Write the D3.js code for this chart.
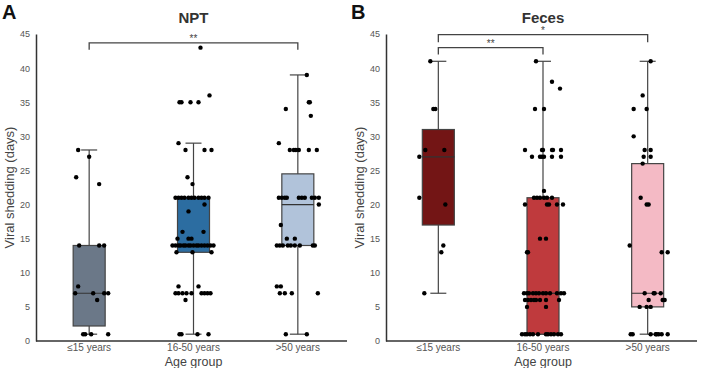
<!DOCTYPE html>
<html>
<head>
<meta charset="utf-8">
<script src="https://cdn.jsdelivr.net/npm/d3@7"></script>
<style>
  body { margin: 0; background: #fff; }
  svg text { font-family: "Liberation Sans", Arial, sans-serif; }
  .tick text { fill: #555; }
</style>
</head>
<body>
<svg id="chart" width="702" height="368"></svg>
<script>
const groups = ["≤15 years", "16-50 years", ">50 years"]

// box stats [min, q1, median, q3, max]
const nptBoxes = [[1, 2.2, 7, 14, 28], [1, 13, 14, 21, 29], [1, 14, 20, 24.5, 39]]
const fecesBoxes = [[7, 17, 27, 31, 41], [1, 1, 7, 21, 41], [1, 5, 7, 26, 41]]

const nptColors = ["#6b7888", "#2c6da1", "#b1c3da"]
const fecesColors = ["#731515", "#bf3a3d", "#f4bac5"]

// points: [jitter, days]
const npt0 = [[-11,28],[0,27],[-13,24],[10,23],[-10,14],[10,14],[15,14],[-11,8],[-14,7],[4,7],[15,7],[19,7],[8,6],[-6,1],[-4,1],[2,1],[19,1]]
const npt1 = [[7,43],[-14,35],[-12,35],[-3,35],[5,35],[16,36],[-15,29],[-8,28],[11,28],[18,28],[-6,24],[-1,23],
  [-18,21],[-15,21],[-12,21],[-9,21],[-5,21],[-2,21],[1,21],[5,21],[8,21],[11,21],[15,21],[11,20],[-5,19],[-11,16],[10,16],
  [-16,15],[-5,15],[-2,15],[-21,14],[-18,14],[-15,14],[-13,14],[-10,14],[-8,14],[-5,14],[-3,14],[0,14],[3,14],[5,14],[8,14],
  [11,14],[14,14],[17,14],[20,14],[-17,13],[-1,13],[18,13],[-15,8],[5,8],[-18,7],[-15,7],[-11,7],[-7,7],[-2,7],[8,7],[11,7],
  [14,7],[17,7],[-8,6],[-14,1],[-12,1],[4,1],[15,1]]
const npt2 = [[9,39],[-12,34],[11,35],[12,35],[13,33],[-19,29],[-8,28],[-4,28],[-2,28],[1,28],[11,28],[19,28],
  [-19,21],[-16,21],[-13,21],[-11,21],[1,21],[4,21],[7,21],[14,21],[17,21],[21,21],[21,20],[-17,17],[-11,15],[-3,15],
  [-21,14],[-18,14],[-15,14],[-10,14],[-7,14],[-3,14],[2,14],[15,14],[17,14],[-21,8],[-17,8],[-18,7],[-13,7],[-6,7],[20,7],
  [-12,1],[9,1]]
const feces0 = [[-8,41],[-5,34],[-3,34],[-13,28],[6,28],[-19,27],[-19,21],[7,20],[5,14],[3,13],[-14,7]]
const feces1 = [[-7,41],[9,38],[17,37],[-8,34],[1,34],[-18,28],[-1,28],[0,28],[9,28],[10,28],[18,28],
  [-11,27],[-3,27],[-1,27],[1,27],[9,27],[18,27],[1,22],[-9,21],[-6,21],[-3,21],[1,21],[4,21],[9,21],
  [-18,20],[4,20],[6,20],[14,20],[20,20],[-3,15],[3,15],[-16,13],[-15,13],
  [-19,7],[-16,7],[-14,7],[-10,7],[-7,7],[-4,7],[0,7],[3,7],[7,7],[14,7],[18,7],[21,7],
  [-18,6],[-15,6],[-12,6],[-9,6],[-7,6],[-3,6],[3,6],[16,6],[-16,5],[3,5],
  [-21,1],[-18,1],[-16,1],[-13,1],[-10,1],[-5,1],[3,1],[5,1],[8,1],[11,1],[15,1],[18,1]]
const feces2 = [[3,41],[-5,36],[-14,34],[-1,34],[-14,30],[-3,28],[3,28],[-4,27],[3,27],[-5,26],[-7,21],[-1,20],[1,20],
  [-18,14],[14,13],[20,13],[-3,7],[6,7],[7,7],[13,7],[1,6],[15,6],[17,6],[-8,5],[-1,5],[3,5],
  [-17,1],[-15,1],[3,1],[8,1],[9,1],[11,1],[14,1],[20,1]]

const panels = [
  { letter: "A", title: "NPT", x0: 37, x1: 350, axisX: 36, boxes: nptBoxes, colors: nptColors,
    points: [npt0, npt1, npt2],
    sig: [{ a: 0, b: 2, y: 43.7, drop: 1, label: "**" }] },
  { letter: "B", title: "Feces", x0: 386, x1: 700, axisX: 386, boxes: fecesBoxes, colors: fecesColors,
    points: [feces0, feces1, feces2],
    sig: [{ a: 0, b: 2, y: 44.9, drop: 1.1, label: "*" }, { a: 0, b: 1, y: 43, drop: 1, label: "**" }] }
]

const svg = d3.select("#chart")
const y = d3.scaleLinear().domain([0, 45]).range([341, 34])
const boxW = 32
const jitter = d3.scaleLinear().domain([-16, 16]).range([-16, 16])

panels.forEach(p => {
  const x = d3.scaleBand().domain(groups).range([p.x0, p.x1])
  const cx = g => x(g) + x.bandwidth() / 2
  const g = svg.append("g")

  g.append("text")
    .attr("x", p.x0 - 35)
    .attr("y", 19)
    .attr("font-size", 20)
    .attr("font-weight", "bold")
    .attr("fill", "#111")
    .text(p.letter)

  g.append("text")
    .attr("x", cx(groups[1]))
    .attr("y", 22.5)
    .attr("text-anchor", "middle")
    .attr("font-size", 15)
    .attr("font-weight", "bold")
    .attr("fill", "#333")
    .text(p.title)

  // axes
  const yAxis = d3.axisLeft(y).tickValues(d3.range(0, 46, 5)).tickSize(0).tickPadding(6)
  const yG = g.append("g").attr("transform", `translate(${p.axisX},0)`).call(yAxis)
  yG.select(".domain").attr("stroke", "#333").attr("stroke-width", 1.5)
  yG.selectAll(".tick text").attr("font-size", 9)

  const xAxis = d3.axisBottom(x).tickSize(0).tickPadding(3)
  const xG = g.append("g").attr("transform", `translate(0,${y(0)})`).call(xAxis)
  xG.select(".domain").attr("stroke", "#333").attr("stroke-width", 1.5)
    .attr("d", `M${p.axisX},0H${p.x1 - 3}`)
  xG.selectAll(".tick text").attr("font-size", 10)

  g.append("text")
    .attr("x", cx(groups[1]))
    .attr("y", 365.5)
    .attr("text-anchor", "middle")
    .attr("font-size", 12.5)
    .attr("fill", "#444")
    .text("Age group")

  g.append("text")
    .attr("transform", `translate(${p.axisX - 22},${y(22.5)}) rotate(-90)`)
    .attr("text-anchor", "middle")
    .attr("font-size", 13)
    .attr("fill", "#444")
    .text("Viral shedding (days)")

  // significance brackets
  p.sig.forEach(s => {
    const xa = cx(groups[s.a]), xb = cx(groups[s.b])
    g.append("path")
      .attr("d", `M${xa},${y(s.y - s.drop)}V${y(s.y)}H${xb}V${y(s.y - s.drop)}`)
      .attr("fill", "none")
      .attr("stroke", "#444")
      .attr("stroke-width", 1.3)
    g.append("text")
      .attr("x", (xa + xb) / 2)
      .attr("y", y(s.y) - 1)
      .attr("text-anchor", "middle")
      .attr("font-size", 10)
      .attr("fill", "#444")
      .text(s.label)
  })

  // boxes
  groups.forEach((grp, i) => {
    const b = p.boxes[i]
    const c = cx(grp)
    const bg = g.append("g")
    bg.append("line")
      .attr("x1", c).attr("x2", c).attr("y1", y(b[0])).attr("y2", y(b[4]))
      .attr("stroke", "#444").attr("stroke-width", 1.2)
    ;[b[0], b[4]].forEach(v => {
      bg.append("line")
        .attr("x1", c - 8).attr("x2", c + 8).attr("y1", y(v)).attr("y2", y(v))
        .attr("stroke", "#444").attr("stroke-width", 1.2)
    })
    bg.append("rect")
      .attr("x", c - boxW / 2).attr("width", boxW)
      .attr("y", y(b[3])).attr("height", y(b[1]) - y(b[3]))
      .attr("fill", p.colors[i])
      .attr("stroke", "#444").attr("stroke-width", 1.2)
    bg.append("line")
      .attr("x1", c - boxW / 2).attr("x2", c + boxW / 2).attr("y1", y(b[2])).attr("y2", y(b[2]))
      .attr("stroke", "#333").attr("stroke-width", 1.2)

    bg.selectAll("circle")
      .data(p.points[i])
      .enter()
      .append("circle")
        .attr("cx", d => c + jitter(d[0]))
        .attr("cy", d => y(d[1]))
        .attr("r", 2.2)
        .attr("fill", "#000")
  })
})
</script>
</body>
</html>
